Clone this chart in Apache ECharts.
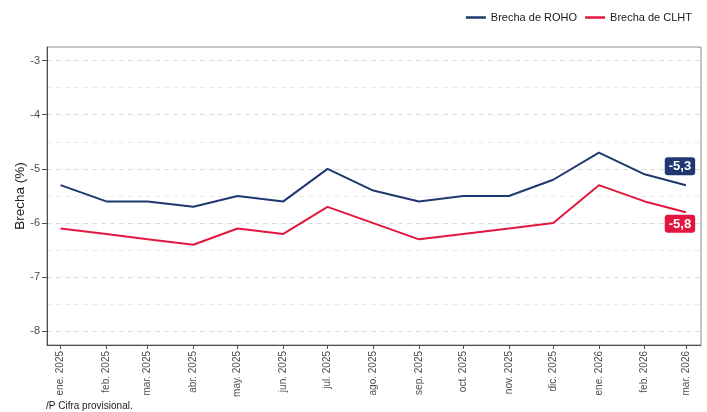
<!DOCTYPE html>
<html><head><meta charset="utf-8">
<script src="https://cdn.jsdelivr.net/npm/echarts@6/dist/echarts.min.js"></script>
<style>html,body{margin:0;padding:0;background:#fff}#c{width:707px;height:412px}</style>
</head><body><div id="c"></div>
<script>
const months = ['2025-01-01','2025-02-01','2025-03-01','2025-04-01','2025-05-01','2025-06-01','2025-07-01','2025-08-01','2025-09-01','2025-10-01','2025-11-01','2025-12-01','2026-01-01','2026-02-01','2026-03-01'];
const tickLabels = ['ene. 2025','feb. 2025','mar. 2025','abr. 2025','may. 2025','jun. 2025','jul. 2025','ago. 2025','sep. 2025','oct. 2025','nov. 2025','dic. 2025','ene. 2026','feb. 2026','mar. 2026'];
const roho = [-5.3,-5.6,-5.6,-5.7,-5.5,-5.6,-5.0,-5.4,-5.6,-5.5,-5.5,-5.2,-4.7,-5.1,-5.3];
const clht = [-6.1,-6.2,-6.3,-6.4,-6.1,-6.2,-5.7,-6.0,-6.3,-6.2,-6.1,-6.0,-5.3,-5.6,-5.8];
const yLabels = [-8,-7,-6,-5,-4,-3];
const yGrid = [-8,-7.5,-7,-6.5,-6,-5.5,-5,-4.5,-4,-3.5,-3];

const NAVY = '#1f3870', RED = '#e3173e';
// x positions as day counts since 2025-01-01 (calendar spacing)
const dayNum = s => { const [y,m,d] = s.split('-').map(Number); return Math.round((Date.UTC(y, m-1, d) - Date.UTC(2025, 0, 1)) / 86400000); };
const xs = months.map(dayNum);
const fmt = v => String(v).replace('.', ',');

function mk(vals, color, pos, dist) {
  return vals.map((v, i) => {
    const item = { value: [xs[i], v] };
    if (i === vals.length - 1) {
      item.label = {
        show: true, position: pos, distance: dist, offset: [-6, 0],
        formatter: p => fmt(p.value[1]),
        backgroundColor: color, color: '#fff', fontWeight: 'bold',
        fontSize: 13, fontFamily: 'Liberation Sans, Arial, sans-serif',
        padding: [3, 4, 2, 4], borderRadius: 3
      };
    }
    return item;
  });
}

const chart = echarts.init(document.getElementById('c'), null, { renderer: 'canvas' });
chart.setOption({
  animation: false,
  textStyle: { fontFamily: 'Liberation Sans, Arial, sans-serif' },
  legend: {
    right: 10, top: 7, itemGap: 8, itemWidth: 20, itemHeight: 2.5, icon: 'rect',
    textStyle: { fontSize: 11, color: '#1a1a1a' },
    data: ['Brecha de ROHO', 'Brecha de CLHT']
  },
  grid: { left: 47, right: 6, top: 47, bottom: 67, show: true, borderColor: '#8c8c8c', borderWidth: 1,
          containLabel: false, outerBoundsMode: 'none' },
  xAxis: {
    type: 'value',
    min: xs[0] - 9.2,
    max: xs[xs.length - 1] + 10.2,
    axisLine: { show: true, onZero: false, lineStyle: { color: '#4d4d4d', width: 1 } },
    axisTick: { show: true, length: 4, customValues: xs, lineStyle: { color: '#4d4d4d' } },
    axisLabel: {
      customValues: xs, rotate: 90, fontSize: 10, color: '#4d4d4d', margin: 6,
      formatter: v => { const i = xs.indexOf(v); return i >= 0 ? tickLabels[i] : ''; }
    },
    splitLine: { show: false }
  },
  yAxis: [{
    type: 'value', min: -8.25, max: -2.75,
    name: 'Brecha (%)', nameLocation: 'middle', nameGap: 20, nameRotate: 90, nameMoveOverlap: false,
    nameTextStyle: { fontSize: 13.5, color: '#1a1a1a' },
    axisLine: { show: true, onZero: false, lineStyle: { color: '#4d4d4d', width: 1 } },
    axisTick: { show: true, length: 5, customValues: yLabels, lineStyle: { color: '#4d4d4d' } },
    axisLabel: { customValues: yLabels, fontSize: 11, color: '#4d4d4d', margin: 7, formatter: v => String(v) },
    splitLine: { show: false }
  }, {
    type: 'value', min: -8.25, max: -2.75, position: 'left', offset: 0,
    axisLine: { show: false, onZero: false },
    axisTick: { show: false, customValues: yGrid },
    axisLabel: { show: false, customValues: yGrid },
    splitLine: { show: true, lineStyle: { color: ['#dcdcdc', '#ececec'], type: [5, 4], width: 1 } }
  }],
  series: [
    { name: 'Brecha de ROHO', type: 'line', data: mk(roho, NAVY, 'top', 10), showSymbol: true, symbol: 'circle', symbolSize: 0,
      lineStyle: { color: NAVY, width: 2 }, itemStyle: { color: NAVY }, z: 3 },
    { name: 'Brecha de CLHT', type: 'line', data: mk(clht, RED, 'bottom', 2.5), showSymbol: true, symbol: 'circle', symbolSize: 0,
      lineStyle: { color: RED, width: 2 }, itemStyle: { color: RED }, z: 3 }
  ],
  graphic: [{
    type: 'text', left: 46, top: 401,
    style: { text: '/P Cifra provisional.', fontSize: 10, fill: '#1a1a1a', fontFamily: 'Liberation Sans, Arial, sans-serif' }
  }]
});
</script></body></html>
